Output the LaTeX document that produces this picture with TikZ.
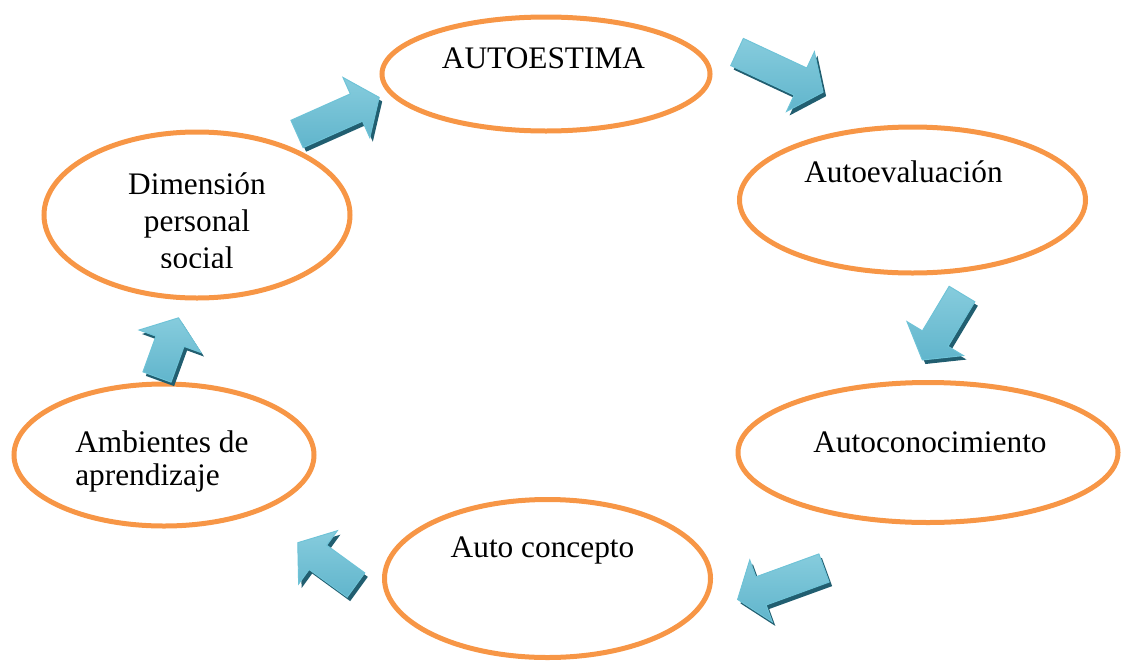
\documentclass[tikz,border=0pt]{standalone}
\usepackage{fontspec}
\setmainfont{Liberation Serif}
\usetikzlibrary{shapes.geometric}
\definecolor{orng}{HTML}{F79646}
\definecolor{arrlight}{HTML}{86CCDD}
\definecolor{arrmid}{HTML}{45A8C3}
\definecolor{arredge}{HTML}{6EC3D7}
\definecolor{arrdark}{HTML}{215E70}
\begin{document}
\begin{tikzpicture}[x=0.75pt,y=0.75pt,
  ell/.style={ellipse, draw=orng, line width=3.75pt, inner sep=0pt},
  txt/.style={font=\fontsize{23.5}{27}\selectfont, inner sep=0pt, anchor=base},
  arrowbody/.style={draw=arredge, line width=0.7pt, top color=arrlight, middle color=arrmid, bottom color=arrmid!85!white},
  pics/blockarrow/.style={code={
    \path[arrowbody] (0,-15) -- (#1-25,-15) -- (#1-25,-33) -- (#1,0) -- (#1-25,33) -- (#1-25,15) -- (0,15) -- cycle;
  }},
  pics/blockshadow/.style={code={
    \fill[arrdark] (0,-15) -- (#1-25,-15) -- (#1-25,-33) -- (#1,0) -- (#1-25,33) -- (#1-25,15) -- (0,15) -- cycle;
  }}
]
\useasboundingbox (0,0) rectangle (1123,-664);

% ellipses
\node[ell, minimum width=246pt, minimum height=85.5pt] (e1) at (546,-74) {};
\node[ell, minimum width=259.5pt, minimum height=109.5pt] (e2) at (912.5,-200) {};
\node[ell, minimum width=285pt, minimum height=105pt] (e3) at (928,-452.5) {};
\node[ell, minimum width=244.5pt, minimum height=118.5pt] (e4) at (547.5,-578.5) {};
\node[ell, minimum width=225pt, minimum height=106.5pt] (e5) at (164,-455) {};
\node[ell, minimum width=229.5pt, minimum height=124.5pt] (e6) at (197,-215) {};

% texts
\node[txt] (t1) at (543.5,-68) {AUTOESTIMA};
\node[txt] (t2) at (903.5,-182) {Autoevaluación};
\node[txt] (t3) at (930,-452) {Autoconocimiento};
\node[txt] (t4) at (542.5,-557) {Auto concepto};
\node[txt, anchor=base west, align=left, font=\fontsize{23.5}{24.75}\selectfont] (t5) at (75,-485) {Ambientes de\\aprendizaje};
\begin{scope}
  \clip (40,-100) rectangle (360,-267);
  \node[txt, align=center, font=\fontsize{23.5}{27.4}\selectfont] (t6) at (197,-268) {Dimensión\\personal\\social};
\end{scope}

% block arrows: shadows
\pic[rotate=24]   at (300,-138) {blockshadow=90};
\pic[rotate=-25]  at (740,-56)  {blockshadow=95};
\pic[rotate=-121] at (965,-298) {blockshadow=77};
\pic[rotate=200]  at (827,-572) {blockshadow=92};
\pic[rotate=144]  at (359,-589) {blockshadow=72};
\pic[rotate=70]   at (160,-381) {blockshadow=63};
% block arrows: bodies
\pic[rotate=24]   at (297,-134) {blockarrow=90};
\pic[rotate=-25]  at (737,-52)  {blockarrow=95};
\pic[rotate=-121] at (962,-294) {blockarrow=77};
\pic[rotate=200]  at (824,-568) {blockarrow=92};
\pic[rotate=144]  at (356,-585) {blockarrow=72};
\pic[rotate=70]   at (157,-377) {blockarrow=63};
\end{tikzpicture}
\end{document}
